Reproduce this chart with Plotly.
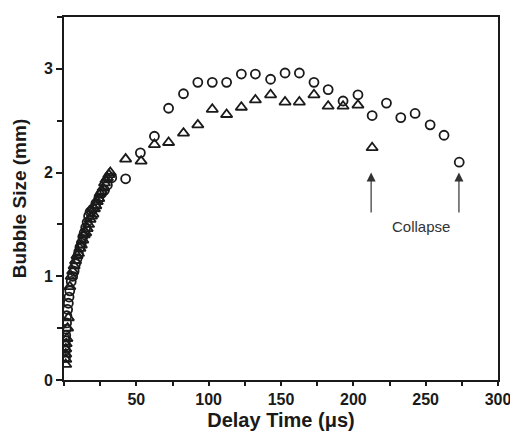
import plotly.graph_objects as go

# Circle series (lasts until ~273 us)
circ_x = [1.0, 1.0, 1.0, 1.0, 1.2, 1.5, 1.8, 2.0, 2.5, 3.0, 3.5, 4.0, 5.0, 6.0, 7.0, 8.0, 9.0, 10.0,
          11.0, 12.0, 13.0, 14.0, 15.0, 16.0, 17.0, 18.0, 19.0, 20.0, 22.0, 24.0, 26.0, 28.0, 30.0, 33.0,
          42.6, 52.8, 62.5, 72.3, 82.6, 92.5, 102.5, 112.4, 122.6, 132.3, 142.8, 152.8, 162.7, 172.8,
          182.6, 192.9, 203.2, 213.0, 222.9, 232.8, 242.7, 253.1, 262.7, 273.2]
circ_y = [0.22, 0.28, 0.33, 0.38, 0.43, 0.49, 0.55, 0.62, 0.68, 0.74, 0.80, 0.86, 0.95, 1.00, 1.05, 1.12,
          1.17, 1.22, 1.28, 1.32, 1.38, 1.42, 1.47, 1.52, 1.58, 1.62, 1.63, 1.65, 1.70, 1.75, 1.80, 1.83,
          1.88, 1.95, 1.94, 2.19, 2.35, 2.62, 2.76, 2.87, 2.87, 2.87, 2.95, 2.95, 2.90, 2.96, 2.96, 2.87,
          2.80, 2.69, 2.75, 2.55, 2.67, 2.53, 2.57, 2.46, 2.36, 2.10]

# Triangle series (lasts until ~213 us)
tri_x = [1.2, 1.2, 1.2, 1.2, 1.5, 2.0, 2.5, 3.0, 4.0, 5.0, 6.0, 7.0, 8.0, 9.0, 10.0, 11.0, 12.0, 13.0,
         14.0, 15.0, 16.0, 17.0, 18.0, 19.0, 20.0, 21.0, 22.0, 23.0, 24.0, 25.0, 26.0, 27.0, 28.0, 29.0,
         30.0, 31.0, 32.0, 42.6, 53.3, 62.5, 72.3, 82.6, 92.5, 102.5, 112.4, 122.6, 132.3, 142.8, 152.8,
         162.7, 172.8, 182.6, 192.9, 203.2, 213.0]
tri_y = [0.15, 0.20, 0.25, 0.30, 0.35, 0.40, 0.50, 0.60, 0.90, 1.00, 1.05, 1.10, 1.15, 1.20, 1.22, 1.27,
         1.30, 1.35, 1.40, 1.42, 1.46, 1.50, 1.55, 1.58, 1.60, 1.65, 1.68, 1.72, 1.75, 1.80, 1.82, 1.85,
         1.90, 1.93, 1.95, 1.98, 2.00, 2.13, 2.11, 2.27, 2.29, 2.38, 2.46, 2.61, 2.56, 2.63, 2.70, 2.75,
         2.68, 2.68, 2.75, 2.64, 2.64, 2.65, 2.24]

x_ticks = [50, 100, 150, 200, 250, 300]
y_ticks = [0, 1, 2, 3]
collapse_x = [212.3, 273.0]

FONT = "Liberation Sans, Arial, sans-serif"
INK = "#1a1a1a"

fig = go.Figure()
fig.add_trace(go.Scatter(x=circ_x, y=circ_y, mode="markers",
                         marker=dict(symbol="circle-open", size=9, color=INK,
                                     line=dict(width=1.8, color=INK)),
                         showlegend=False))
fig.add_trace(go.Scatter(x=tri_x, y=tri_y, mode="markers",
                         marker=dict(symbol="triangle-up-open", size=10, color=INK,
                                     line=dict(width=1.8, color=INK)),
                         showlegend=False))

for cx in collapse_x:
    fig.add_annotation(x=cx, y=2.0, ax=cx, ay=1.6, xref="x", yref="y",
                       axref="x", ayref="y", showarrow=True, arrowhead=2,
                       arrowsize=1.5, arrowwidth=1.2, arrowcolor="#333", text="")
fig.add_annotation(x=246.5, y=1.48, text="Collapse", showarrow=False,
                   font=dict(family=FONT, size=15, color="#333"))

# The page body has an 8px margin, so the figure is a bit smaller than the window
fig.update_layout(
    width=510, height=431,
    margin=dict(l=56, r=17, t=7, b=59),
    paper_bgcolor="white", plot_bgcolor="white",
    font=dict(family=FONT, color=INK),
)
fig.update_xaxes(
    range=[0, 300], tickvals=x_ticks, ticks="outside", ticklen=4, tickwidth=1.5,
    tickcolor=INK, showgrid=False, zeroline=False,
    showline=True, linecolor=INK, linewidth=2, mirror=True,
    minor=dict(dtick=25, tick0=0, ticks="outside", ticklen=4, tickwidth=1.5, tickcolor=INK, showgrid=False),
    tickfont=dict(family=FONT, size=16, weight="bold", color=INK),
    title=dict(text="Delay Time (\u03bcs)", font=dict(family=FONT, size=20, weight="bold", color=INK),
               standoff=6),
)
fig.update_yaxes(
    range=[0, 3.5], tickvals=y_ticks, ticks="outside", ticklen=6, tickwidth=1.5,
    tickcolor=INK, showgrid=False, zeroline=False,
    showline=True, linecolor=INK, linewidth=2, mirror=True,
    minor=dict(dtick=0.5, tick0=0, ticks="outside", ticklen=5, tickwidth=1.5, tickcolor=INK, showgrid=False),
    tickfont=dict(family=FONT, size=16, weight="bold", color=INK),
    title=dict(text="Bubble Size (mm)", font=dict(family=FONT, size=19, weight="bold", color=INK),
               standoff=12),
)

fig.write_html("out.html")
